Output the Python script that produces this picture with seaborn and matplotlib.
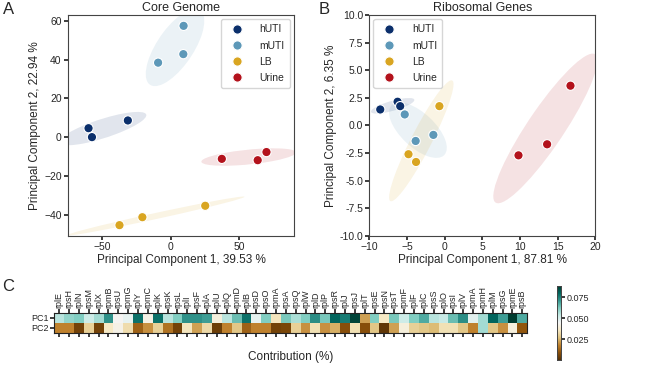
import numpy as np
import pandas as pd
import matplotlib
matplotlib.use("Agg")
import matplotlib.pyplot as plt
import matplotlib.transforms as transforms
from matplotlib.patches import Ellipse
import seaborn as sns

# ---- data ----
groups = ["hUTI", "mUTI", "LB", "Urine"]
colors = ["#0b2f6b", "#5d98b8", "#d9a521", "#b3121c"]

core_group = ["hUTI"] * 3 + ["mUTI"] * 3 + ["LB"] * 3 + ["Urine"] * 3
core_pc1 = [-60.0, -57.5, -31.3, -9.2, 9.2, 9.4, -37.4, -20.7, 25.2, 37.3, 63.5, 69.9]
core_pc2 = [4.6, 0.0, 8.6, 38.4, 42.8, 57.4, -45.4, -41.3, -35.4, -11.2, -11.9, -7.7]

ribo_group = ["hUTI"] * 3 + ["mUTI"] * 3 + ["LB"] * 3 + ["Urine"] * 3
ribo_pc1 = [-8.55, -6.25, -5.9, -5.3, -3.85, -1.5, -0.7, -4.8, -3.8, 9.8, 13.6, 16.7]
ribo_pc2 = [1.45, 2.15, 1.75, 1.0, -1.4, -0.85, 1.75, -2.6, -3.3, -2.7, -1.7, 3.6]

genes = ["rplE", "rpsH", "rplN", "rpsM", "rplX", "rpmB", "rpsU", "rpmG", "rplY", "rpmC",
         "rplK", "rpsK", "rpsL", "rplI", "rpsF", "rplA", "rplU", "rplQ", "rpmD", "rplB",
         "rpsD", "rpsO", "rpmA", "rpsA", "rpsQ", "rplW", "rplD", "rplP", "rpsR", "rplJ",
         "rpsJ", "rplT", "rpsE", "rpsN", "rpsT", "rpmF", "rplF", "rplC", "rpsS", "rplO",
         "rpsI", "rplV", "rpmA", "rpmH", "rplM", "rpsG", "rpmE", "rpsB"]
pc1_contrib = [0.055, 0.060, 0.062, 0.052, 0.058, 0.072, 0.044, 0.047, 0.078, 0.042,
               0.078, 0.055, 0.062, 0.072, 0.072, 0.070, 0.040, 0.055, 0.065, 0.078,
               0.047, 0.062, 0.035, 0.063, 0.057, 0.062, 0.073, 0.063, 0.080, 0.076,
               0.087, 0.022, 0.062, 0.036, 0.063, 0.052, 0.062, 0.068, 0.055, 0.053,
               0.065, 0.073, 0.048, 0.058, 0.080, 0.070, 0.089, 0.068]
pc2_contrib = [0.018, 0.018, 0.005, 0.030, 0.005, 0.036, 0.042, 0.033, 0.012, 0.020,
               0.030, 0.015, 0.005, 0.035, 0.022, 0.032, 0.004, 0.018, 0.028, 0.012,
               0.018, 0.018, 0.005, 0.006, 0.030, 0.020, 0.034, 0.020, 0.024, 0.008,
               0.034, 0.008, 0.028, 0.002, 0.022, 0.040, 0.030, 0.028, 0.026, 0.034,
               0.034, 0.028, 0.018, 0.058, 0.028, 0.020, 0.040, 0.010]

core = pd.DataFrame({"group": core_group, "pc1": core_pc1, "pc2": core_pc2})
ribo = pd.DataFrame({"group": ribo_group, "pc1": ribo_pc1, "pc2": ribo_pc2})
contrib = pd.DataFrame([pc1_contrib, pc2_contrib], index=["PC1", "PC2"], columns=genes)

sns.set_theme(style="ticks")
plt.rcParams["font.family"] = ["Liberation Sans", "DejaVu Sans"]
plt.rcParams["axes.edgecolor"] = "#444444"
plt.rcParams["axes.linewidth"] = 0.8

palette = dict(zip(groups, colors))


def confidence_ellipse(x, y, ax, n_std=2.0, **kw):
    # 2-sigma covariance ellipse around a group
    cov = np.cov(x, y)
    pearson = cov[0, 1] / np.sqrt(cov[0, 0] * cov[1, 1])
    rx = np.sqrt(1 + pearson)
    ry = np.sqrt(1 - pearson)
    ell = Ellipse((0, 0), width=rx * 2, height=ry * 2, **kw)
    sx = np.sqrt(cov[0, 0]) * n_std
    sy = np.sqrt(cov[1, 1]) * n_std
    tr = transforms.Affine2D().rotate_deg(45).scale(sx, sy).translate(np.mean(x), np.mean(y))
    ell.set_transform(tr + ax.transData)
    ax.add_patch(ell)


def pca_panel(ax, df, title, xlabel, ylabel, loc):
    for g in groups:
        sub = df[df.group == g]
        confidence_ellipse(sub.pc1.values, sub.pc2.values, ax,
                           facecolor=palette[g], alpha=0.12, edgecolor="none", zorder=1)
    sns.scatterplot(data=df, x="pc1", y="pc2", hue="group", hue_order=groups,
                    palette=palette, s=45, edgecolor="white", linewidth=0.8,
                    ax=ax, zorder=3)
    ax.set_title(title, fontsize=9, pad=3)
    ax.set_xlabel(xlabel, fontsize=8.5, labelpad=1)
    ax.set_ylabel(ylabel, fontsize=8.5, labelpad=2)
    ax.tick_params(labelsize=7.5, length=3, pad=1.5)
    leg = ax.legend(loc=loc, fontsize=7.5, labelspacing=0.6, handletextpad=1.2,
                    borderpad=0.5, frameon=True, borderaxespad=0.4)
    leg.get_frame().set_edgecolor("#cccccc")


fig = plt.figure(figsize=(6.5, 3.69), dpi=100)
ax_a = fig.add_axes([0.1046, 0.3604, 0.3477, 0.599])
ax_b = fig.add_axes([0.5682, 0.3604, 0.3477, 0.599])
ax_c = fig.add_axes([0.0835, 0.0967, 0.7277, 0.0542])
ax_cb = fig.add_axes([0.8574, 0.0244, 0.0054, 0.2013])

pca_panel(ax_a, core, "Core Genome", "Principal Component 1, 39.53 %",
          "Principal Component 2, 22.94 %", "upper right")
ax_a.set_xlim(-75, 90)
ax_a.set_ylim(-51, 63)
ax_a.set_xticks([-50, 0, 50])
ax_a.set_yticks([-40, -20, 0, 20, 40, 60])

pca_panel(ax_b, ribo, "Ribosomal Genes", "Principal Component 1, 87.81 %",
          "Principal Component 2, 6.35 %", "upper left")
ax_b.set_xlim(-10, 20)
ax_b.set_ylim(-10, 10)
ax_b.set_xticks([-10, -5, 0, 5, 10, 15, 20])
ax_b.set_yticks(np.arange(-10, 10.1, 2.5))
ax_b.yaxis.set_major_formatter(matplotlib.ticker.FormatStrFormatter("%.1f"))

sns.heatmap(contrib, cmap="BrBG", vmin=0.0, vmax=0.089, ax=ax_c, cbar_ax=ax_cb,
            xticklabels=True, yticklabels=True,
            cbar_kws={"ticks": [0.025, 0.05, 0.075], "format": "%.3f"})
for sp in ax_c.spines.values():
    sp.set_visible(True)
    sp.set_color("#222222")
    sp.set_linewidth(0.8)
ax_c.tick_params(axis="x", top=True, labeltop=True, bottom=True, labelbottom=False,
                 labelsize=6.5, length=3, pad=1, rotation=90)
ax_c.tick_params(axis="y", labelsize=6.5, length=3, pad=1, rotation=0)
ax_c.set_xlabel("Contribution (%)", fontsize=8.5, labelpad=10)
ax_c.set_ylabel("")
ax_cb.tick_params(labelsize=6.5, length=3, pad=1)
for sp in ax_cb.spines.values():
    sp.set_visible(True)
    sp.set_linewidth(0.6)

fig.text(0.004, 0.995, "A", fontsize=12, va="top", ha="left")
fig.text(0.49, 0.995, "B", fontsize=12, va="top", ha="left")
fig.text(0.004, 0.245, "C", fontsize=12, va="top", ha="left")

fig.savefig("out.png", dpi=100)
